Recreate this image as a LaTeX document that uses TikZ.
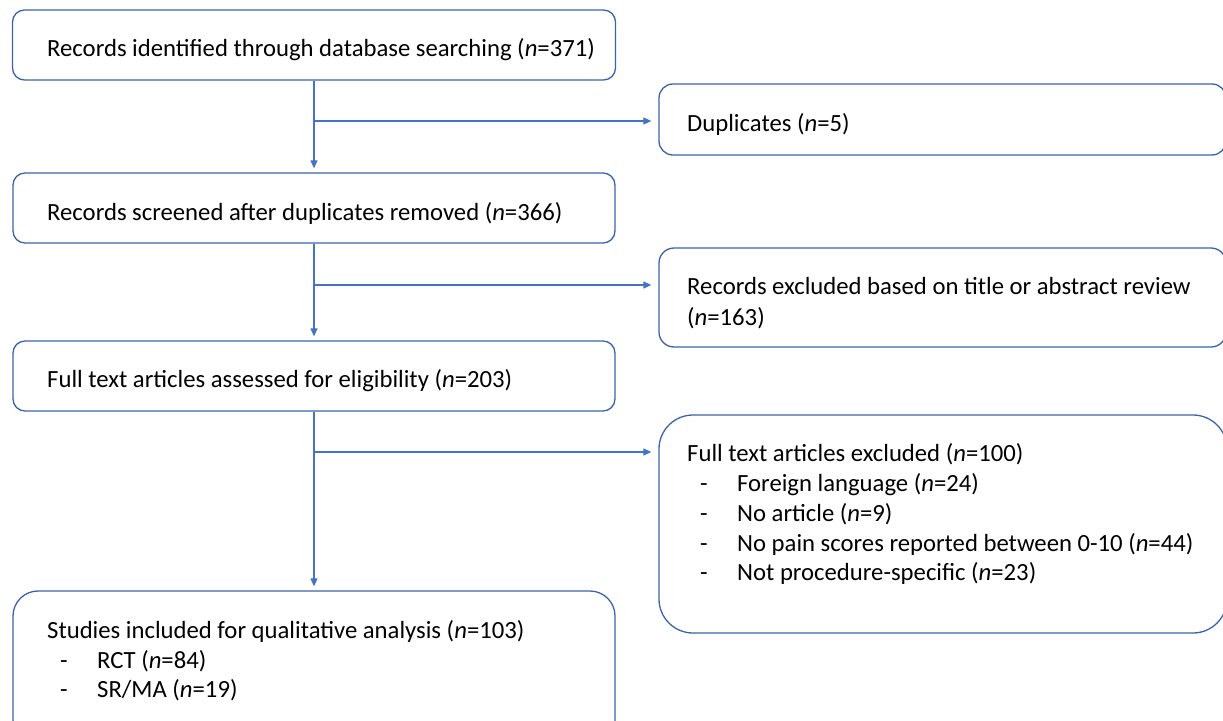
\documentclass[tikz,border=0pt]{standalone}
\usepackage{fontspec}
\setmainfont{Carlito}
\usetikzlibrary{arrows.meta}
\definecolor{edgeblue}{HTML}{3A63AC}
\definecolor{linkblue}{HTML}{4472C4}
\begin{document}
\begin{tikzpicture}[x=1pt,y=-1pt,
  box/.style={draw=edgeblue, line width=1.3pt, rectangle, inner sep=0pt},
  label/.style={inner sep=0pt, anchor=base west, font=\fontsize{24.7}{30}\selectfont},
  conn/.style={draw=linkblue, line width=1.2pt, -{Triangle[length=8pt,width=7pt]}},
  down/.style={conn, shorten >=4pt},
  side/.style={conn, shorten >=7pt}]
\clip (0,0) rectangle (1223,720);

% boxes of the main column
\node[box, rounded corners=12pt, minimum width=603pt, minimum height=70pt] (b1) at (314,45) {};
\node[box, rounded corners=12pt, minimum width=602pt, minimum height=70pt] (b3) at (314,208) {};
\node[box, rounded corners=12pt, minimum width=602pt, minimum height=70pt] (b5) at (314,376) {};
\node[box, rounded corners=25pt, minimum width=602pt, minimum height=154pt] (b7) at (314,668) {};

% boxes of the exclusion column
\node[box, rounded corners=14pt, minimum width=567pt, minimum height=71pt] (b2) at (942.5,119.5) {};
\node[box, rounded corners=15pt, minimum width=567pt, minimum height=99pt] (b4) at (942.5,297.5) {};
\node[box, rounded corners=34pt, minimum width=568pt, minimum height=218pt] (b6) at (943,524) {};

% texts
\node[label] (t1) at (47,56) {Records identified through database searching (\textit{n}=371)};
\node[label] (t2) at (687,131) {Duplicates (\textit{n}=5)};
\node[label] (t3) at (47,220) {Records screened after duplicates removed (\textit{n}=366)};
\node[label] (t4a) at (687,294) {Records excluded based on title or abstract review};
\node[label] (t4b) at (687,325) {(\textit{n}=163)};
\node[label] (t5) at (47,387) {Full text articles assessed for eligibility (\textit{n}=203)};
\node[label] (t6a) at (687,461) {Full text articles excluded (\textit{n}=100)};
\node[label] (t6b) at (700,491) {\makebox[37pt][l]{-}Foreign language (\textit{n}=24)};
\node[label] (t6c) at (700,521) {\makebox[37pt][l]{-}No article (\textit{n}=9)};
\node[label] (t6d) at (700,551) {\makebox[37pt][l]{-}No pain scores reported between 0-10 (\textit{n}=44)};
\node[label] (t6e) at (700,580) {\makebox[37pt][l]{-}Not procedure-specific (\textit{n}=23)};
\node[label] (t7a) at (47,638.5) {Studies included for qualitative analysis (\textit{n}=103)};
\node[label] (t7b) at (60,668.5) {\makebox[37pt][l]{-}RCT (\textit{n}=84)};
\node[label] (t7c) at (60,697.5) {\makebox[37pt][l]{-}SR/MA (\textit{n}=19)};

% flow down the main column
\draw[down] (b1.south) -- (b3.north);
\draw[down] (b3.south) -- (b5.north);
\draw[down] (b5.south) -- (b7.north);

% branches to the exclusion boxes
\coordinate (j1) at (314,121);
\coordinate (j2) at (314,285);
\coordinate (j3) at (314,452);
\draw[side] (j1) -- (j1 -| b2.west);
\draw[side] (j2) -- (j2 -| b4.west);
\draw[side] (j3) -- (j3 -| b6.west);
\end{tikzpicture}
\end{document}
